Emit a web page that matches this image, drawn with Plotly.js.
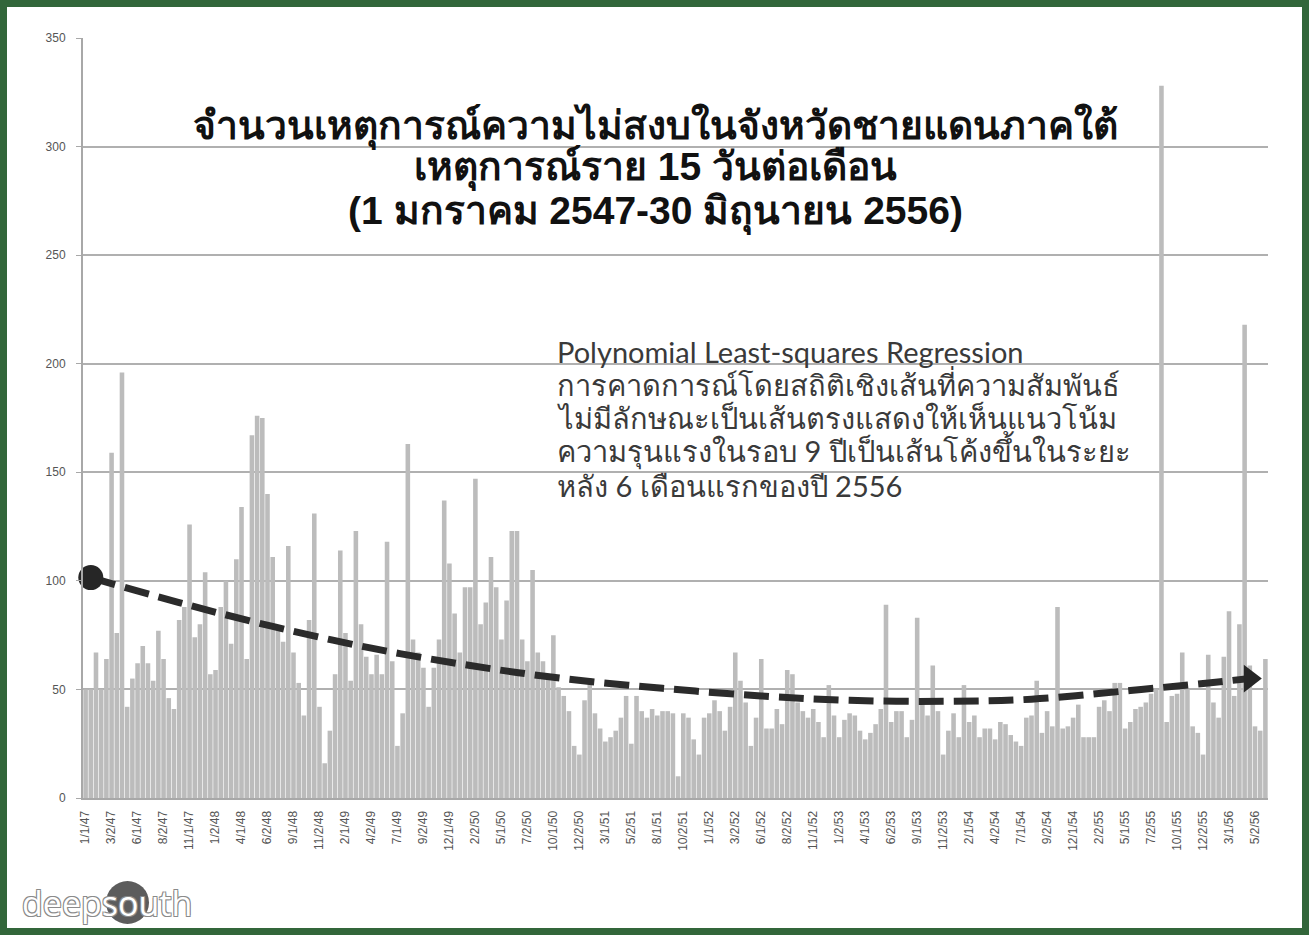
<!DOCTYPE html>
<html>
<head>
<meta charset="utf-8">
<script src="https://cdn.plot.ly/plotly-3.0.1.min.js"></script>
<style>
  html, body { margin: 0; padding: 0; background: #ffffff; }
  #wrap { position: relative; width: 1309px; height: 935px; }
  #chart { width: 1309px; height: 935px; }
  #frame { position: absolute; left: 0; top: 0; width: 1309px; height: 935px; box-sizing: border-box;
           border: 7px solid #32663a; pointer-events: none; }
</style>
</head>
<body>
<div id="wrap">
  <div id="chart"></div>
  <div id="frame"></div>
</div>
<script>
// Incidents per half-month (15 days), 1 Jan 2547 - 30 Jun 2556
const halfMonthCounts = [
  50, 50, 67, 50, 64, 159, 76, 196, 42, 55,
  62, 70, 62, 54, 77, 64, 46, 41, 82, 88,
  126, 74, 80, 104, 57, 59, 88, 100, 71, 110,
  134, 64, 167, 176, 175, 140, 111, 79, 72, 116,
  67, 53, 38, 82, 131, 42, 16, 31, 57, 114,
  76, 54, 123, 80, 65, 57, 66, 57, 118, 63,
  24, 39, 163, 73, 67, 60, 42, 60, 73, 137,
  108, 85, 67, 97, 97, 147, 80, 90, 111, 97,
  73, 91, 123, 123, 73, 63, 105, 67, 63, 57,
  75, 51, 47, 40, 24, 20, 45, 55, 39, 32,
  26, 28, 31, 37, 47, 25, 47, 40, 37, 41,
  38, 40, 40, 39, 10, 39, 37, 27, 20, 37,
  39, 45, 40, 31, 42, 67, 54, 44, 24, 37,
  64, 32, 32, 41, 34, 59, 57, 44, 40, 37,
  41, 35, 28, 52, 38, 28, 36, 39, 38, 31,
  27, 30, 34, 41, 89, 35, 40, 40, 28, 36,
  83, 44, 38, 61, 40, 20, 31, 39, 28, 52,
  35, 38, 28, 32, 32, 27, 35, 34, 29, 26,
  24, 37, 38, 54, 30, 40, 33, 88, 32, 33,
  37, 43, 28, 28, 28, 42, 45, 40, 53, 53,
  32, 35, 41, 42, 44, 48, 50, 328, 35, 47,
  48, 67, 50, 33, 30, 20, 66, 44, 37, 65,
  86, 47, 80, 218, 61, 33, 31, 64
];

// Category tick labels (every 5th half-month)
const tickLabels = [
  "1/1/47", "3/2/47", "6/1/47", "8/2/47", "11/1/47", "1/2/48", "4/1/48", "6/2/48",
  "9/1/48", "11/2/48", "2/1/49", "4/2/49", "7/1/49", "9/2/49", "12/1/49", "2/2/50",
  "5/1/50", "7/2/50", "10/1/50", "12/2/50", "3/1/51", "5/2/51", "8/1/51", "10/2/51",
  "1/1/52", "3/2/52", "6/1/52", "8/2/52", "11/1/52", "1/2/53", "4/1/53", "6/2/53",
  "9/1/53", "11/2/53", "2/1/54", "4/2/54", "7/1/54", "9/2/54", "12/1/54", "2/2/55",
  "5/1/55", "7/2/55", "10/1/55", "12/2/55", "3/1/56", "5/2/56"
];
const tickStep = 5;

// Polynomial trend line at these half-month positions
const trendBars   = [1, 18, 36, 55, 74, 92, 111, 130, 147, 165, 182, 201, 216, 224];
const trendValues = [101.5, 90, 79, 69, 61, 55, 50.5, 47, 45, 44.5, 45.5, 49.5, 53, 55];

const titleLines = [
  "จำนวนเหตุการณ์ความไม่สงบในจังหวัดชายแดนภาคใต้",
  "เหตุการณ์ราย 15 วันต่อเดือน",
  "(1 มกราคม 2547-30 มิถุนายน 2556)"
];
const noteLines = [
  "Polynomial Least-squares Regression",
  "การคาดการณ์โดยสถิติเชิงเส้นที่ความสัมพันธ์",
  "ไม่มีลักษณะเป็นเส้นตรงแสดงให้เห็นแนวโน้ม",
  "ความรุนแรงในรอบ 9 ปีเป็นเส้นโค้งขึ้นในระยะ",
  "หลัง 6 เดือนแรกของปี 2556"
];

const barX = halfMonthCounts.map((v, i) => i);
const tickVals = tickLabels.map((t, j) => j * tickStep);
const lastIdx = trendBars.length - 1;

const data = [
  {
    type: 'bar',
    x: barX,
    y: halfMonthCounts,
    marker: { color: '#bcbcbc', line: { width: 0 } },
    showlegend: false
  },
  {
    type: 'scatter',
    mode: 'lines',
    x: trendBars,
    y: trendValues,
    line: { color: '#2b2b2b', width: 7, dash: '25px,10px', shape: 'spline', smoothing: 1 },
    cliponaxis: false,
    showlegend: false
  },
  {
    type: 'scatter',
    mode: 'markers',
    x: [trendBars[0]],
    y: [trendValues[0]],
    marker: { size: 25, symbol: 'circle', color: '#262626', opacity: 1, line: { width: 0 } },
    cliponaxis: false,
    showlegend: false
  },
  {
    type: 'scatter',
    mode: 'markers',
    x: [trendBars[lastIdx]],
    y: [trendValues[lastIdx]],
    marker: { size: 24, symbol: 'triangle-right', color: '#262626', opacity: 1, line: { width: 0 } },
    cliponaxis: false,
    showlegend: false
  }
];

// plot-area pixel helpers for paper-positioned decorations
const M = { l: 83, r: 41, t: 38, b: 137 };
const PW = 1309 - M.l - M.r, PH = 935 - M.t - M.b;
const px = v => (v - M.l) / PW;
const py = v => (935 - M.b - v) / PH;

const titleFont = { family: 'Liberation Sans, Noto Sans, sans-serif', size: 39, color: '#111111' };
const titleY = [127, 168, 212];
const noteY = [352, 384, 417, 450, 485];
const noteFont = { family: 'Lato, Open Sans, sans-serif', size: 29, color: '#3a3a3a' };

const annotations = [];
titleLines.forEach((t, i) => annotations.push({
  text: '<b>' + t + '</b>', xref: 'paper', yref: 'paper',
  x: px(655), y: py(titleY[i]), xanchor: 'center', yanchor: 'middle',
  showarrow: false, font: titleFont
}));
noteLines.forEach((t, i) => annotations.push({
  text: t, xref: 'paper', yref: 'paper',
  x: px(555), y: py(noteY[i]), xanchor: 'left', yanchor: 'middle', align: 'left',
  showarrow: false, font: noteFont
}));
annotations.push({
  text: 'deepsouth',
  xref: 'paper', yref: 'paper',
  x: px(20), y: py(903),
  xanchor: 'left', yanchor: 'middle',
  showarrow: false,
  font: { family: 'Open Sans, sans-serif', size: 34, color: '#ffffff',
          shadow: '1px 1px 0 #8a8a8a, -1px -1px 0 #8a8a8a, 1px -1px 0 #8a8a8a, -1px 1px 0 #8a8a8a' }
});

const layout = {
  width: 1309,
  height: 935,
  margin: M,
  paper_bgcolor: '#ffffff',
  plot_bgcolor: '#ffffff',
  bargap: 0.12,
  showlegend: false,
  xaxis: {
    range: [-0.5, halfMonthCounts.length - 0.5],
    tickmode: 'array',
    tickvals: tickVals,
    ticktext: tickLabels,
    tickangle: -90,
    tickfont: { family: 'Liberation Sans, sans-serif', size: 12, color: '#555555' },
    ticklabelstandoff: 6,
    showgrid: false,
    zeroline: false,
    showline: true,
    linecolor: '#a8a8a8',
    linewidth: 2,
    ticks: '',
    fixedrange: true
  },
  yaxis: {
    range: [0, 350],
    dtick: 50,
    tick0: 0,
    showgrid: true,
    gridcolor: '#b0b0b0',
    gridwidth: 2,
    zeroline: false,
    showline: true,
    linecolor: '#a8a8a8',
    linewidth: 2,
    ticks: 'outside',
    ticklen: 5,
    tickcolor: '#a8a8a8',
    ticklabelstandoff: 8,
    tickfont: { family: 'Liberation Sans Narrow, Liberation Sans, sans-serif', size: 12, color: '#555555' },
    fixedrange: true
  },
  shapes: [
    {
      type: 'circle', xref: 'paper', yref: 'paper', layer: 'above',
      x0: px(106), x1: px(149), y0: py(924), y1: py(881),
      fillcolor: '#5c5c5c', line: { width: 0 }
    }
  ],
  annotations: annotations
};

Plotly.newPlot('chart', data, layout, { displayModeBar: false, staticPlot: true });
</script>
</body>
</html>
